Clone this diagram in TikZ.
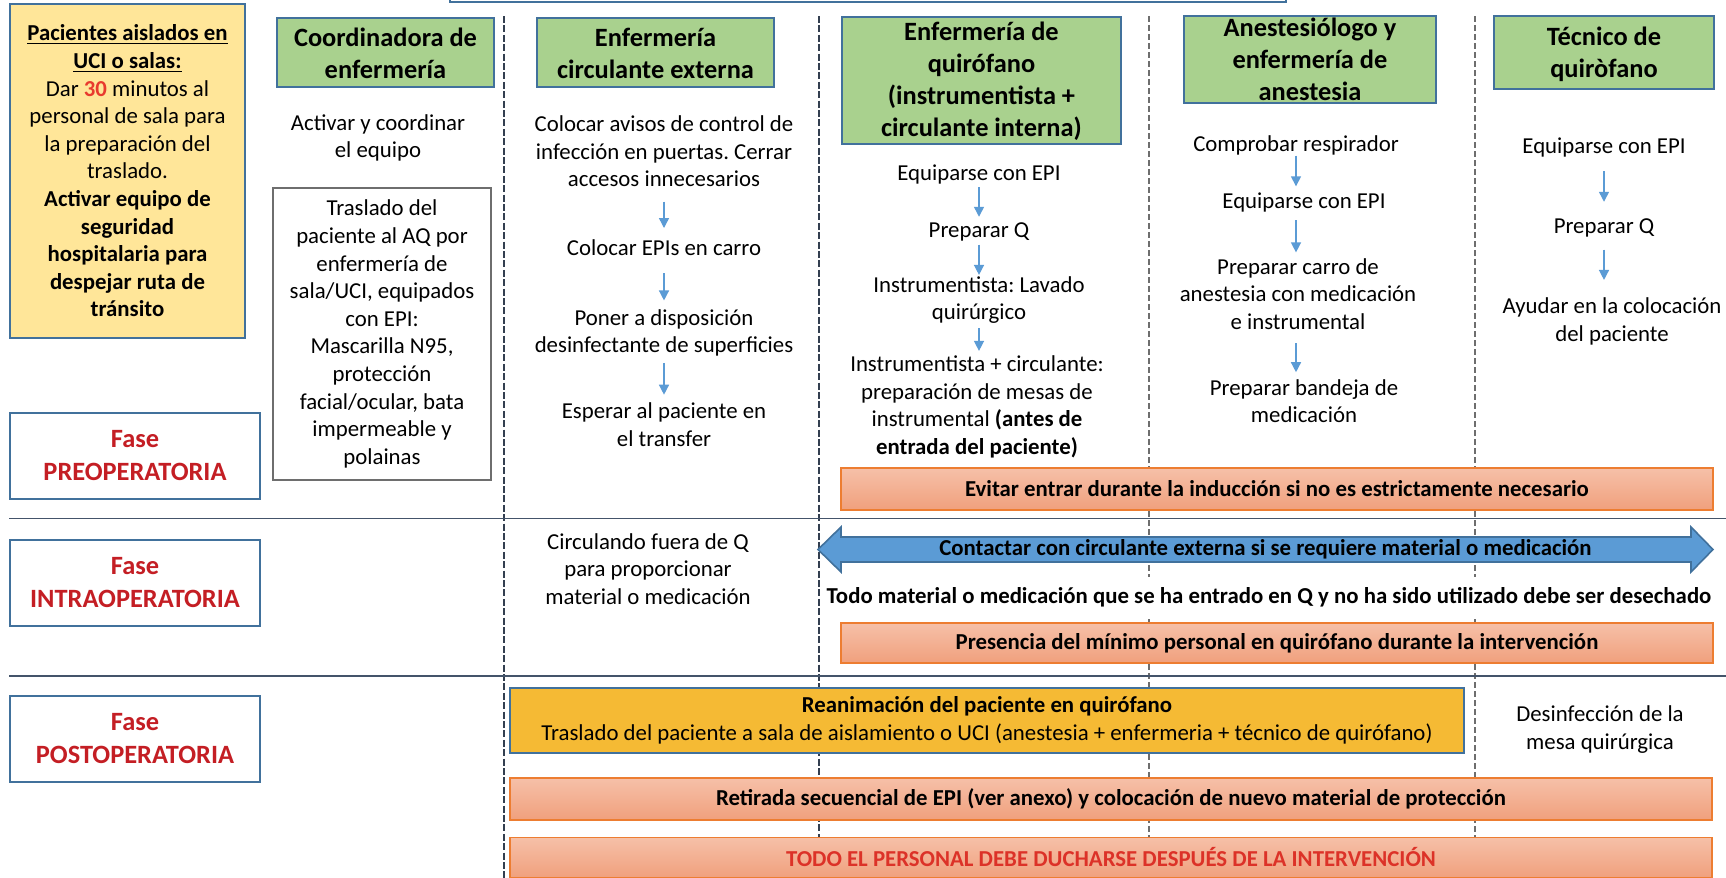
\documentclass[tikz,border=0pt]{standalone}
\usepackage{fontspec}
\setmainfont{Carlito}
\usetikzlibrary{arrows.meta}
\frenchspacing
\definecolor{boxblue}{RGB}{65,113,156}
\definecolor{hdrgreen}{RGB}{169,209,142}
\definecolor{yellowf}{RGB}{255,230,153}
\definecolor{fasered}{RGB}{196,30,36}
\definecolor{red30}{RGB}{232,58,46}
\definecolor{todored}{RGB}{220,50,40}
\definecolor{orgline}{RGB}{237,125,49}
\definecolor{orgtop}{RGB}{246,192,168}
\definecolor{orgbot}{RGB}{240,160,125}
\definecolor{goldf}{RGB}{245,186,52}
\definecolor{arrblue}{RGB}{91,155,213}
\definecolor{navyc}{RGB}{51,63,80}
\definecolor{dgray}{RGB}{110,110,110}
\definecolor{slate}{RGB}{68,84,106}
\definecolor{trasb}{RGB}{110,110,110}
\begin{document}
\begin{tikzpicture}[x=0.5pt,y=-0.5pt,
  txt/.style={font=\fontsize{11.4}{13.8}\selectfont, align=center, inner sep=0pt},
  btxt/.style={font=\fontsize{11.4}{13.8}\selectfont\bfseries, align=center, inner sep=0pt},
  ttl/.style={font=\fontsize{13.2}{16}\selectfont\bfseries, align=center, inner sep=0pt},
  sz/.style 2 args={minimum width=#1*0.5pt, minimum height=#2*0.5pt},
  gbox/.style={draw=boxblue, fill=hdrgreen, line width=0.9pt, inner sep=0pt},
  fasebox/.style={draw=boxblue, fill=white, line width=0.8pt, inner sep=0pt, font=\fontsize{13.2}{16.5}\selectfont\bfseries, text=fasered, align=center},
  obox/.style={draw=orgline, line width=0.8pt, top color=orgtop, bottom color=orgbot, inner sep=0pt, font=\fontsize{11.4}{13.8}\selectfont\bfseries, align=center},
  arr/.style 2 args={draw=arrblue, line width=0.7pt, -{Triangle[length=5pt,width=5pt]}, shorten <=#1pt, shorten >=#2pt},
  navyd/.style={draw=navyc, line width=1pt, dash pattern=on 3.5pt off 1.2pt},
  grayd/.style={draw=dgray, line width=0.6pt, dash pattern=on 3pt off 1.5pt},
  hline/.style={draw=slate, line width=0.8pt}
]
\useasboundingbox (0,0) rectangle (1726,878);
\fill[white] (0,0) rectangle (1726,878);

% column separators
\draw[navyd] (504,16) -- (504,878);
\draw[navyd] (819,16) -- (819,878);
\draw[grayd] (1149,16) -- (1149,878);
\draw[grayd] (1475,16) -- (1475,878);

% phase separators
\draw[hline] (9,518.5) -- (1726,518.5);
\draw[hline] (9,676) -- (1726,676);

% top strip (box cut off by the page)
\draw[boxblue, line width=0.9pt] (450,-4) -- (450,2) -- (1286,2) -- (1286,-4);

% left yellow box
\node[draw=boxblue, fill=yellowf, line width=0.8pt, sz={235}{334}] (yel) at (127.5,171) {};
\node[txt] (yelT) at (yel) {\textbf{\underline{Pacientes aislados en}}\\\textbf{\underline{UCI o salas:}}\\Dar \textbf{\textcolor{red30}{30}} minutos al\\personal de sala para\\la preparación del\\traslado.\\\textbf{Activar equipo de}\\\textbf{seguridad}\\\textbf{hospitalaria para}\\\textbf{despejar ruta de}\\\textbf{tránsito}};

% phase boxes
\node[fasebox, sz={250}{86}] (pre) at (135,456) {Fase\\PREOPERATORIA};
\node[fasebox, sz={250}{86}] (intra) at (135,583) {Fase\\INTRAOPERATORIA};
\node[fasebox, sz={250}{86}] (post) at (135,739) {Fase\\POSTOPERATORIA};

% header boxes
\node[gbox, sz={217}{69}] (hcoord) at (385.5,52.5) {};
\node[ttl] (hcoordT) at (385.5,53) {Coordinadora de\\enfermería};
\node[gbox, sz={237}{69}] (hcirc) at (655.5,52.5) {};
\node[ttl] (hcircT) at (655.5,53) {Enfermería\\circulante externa};
\node[gbox, sz={279}{127}] (hquir) at (981.5,80.5) {};
\node[ttl] (hquirT) at (981.5,81.5) {Enfermería de\\quirófano\\(instrumentista +\\circulante interna)};
\node[gbox, sz={252}{87}] (hanes) at (1310,59.5) {};
\node[ttl] (hanesT) at (1310,59) {Anestesiólogo y\\enfermería de\\anestesia};
\node[gbox, sz={220}{73}] (htec) at (1604,52.5) {};
\node[ttl] (htecT) at (1604,54) {Técnico de\\quiròfano};

% coordinadora column
\node[txt] (c1) at (378,138) {Activar y coordinar\\el equipo};
\node[txt, draw=trasb, line width=0.9pt, fill=white, sz={218}{292}] (c2) at (382,334) {Traslado del\\paciente al AQ por\\enfermería de\\sala/UCI, equipados\\con EPI:\\Mascarilla N95,\\protección\\facial/ocular, bata\\impermeable y\\polainas};

% circulante externa column
\node[txt] (e1) at (664,151.5) {Colocar avisos de control de\\infección en puertas. Cerrar\\accesos innecesarios};
\node[txt] (e2) at (664,248) {Colocar EPIs en carro};
\node[txt] (e3) at (664,333) {Poner a disposición\\desinfectante de superficies};
\node[txt] (e4) at (664,424.5) {Esperar al paciente en\\el transfer};
\node[txt] (e5) at (648,569) {Circulando fuera de Q\\para proporcionar\\material o medicación};
\draw[arr={7}{5.8}] (e1.south) -- (e2.north);
\draw[arr={8.3}{4.3}] (e2.south) -- (e3.north);
\draw[arr={3}{3.8}] (e3.south) -- (e4.north);

% quirofano column
\node[txt] (q1) at (979,174) {Equiparse con EPI};
\node[txt] (q2) at (979,232) {Preparar Q};
\node[txt] (q3) at (979,300) {Instrumentista: Lavado\\quirúrgico};
\node[txt] (q4) at (977,407) {Instrumentista + circulante:\\preparación de mesas de\\instrumental \textbf{(antes de}\\\textbf{entrada del paciente)}};
\draw[arr={1.5}{2.8}] (q1.south) -- (q2.north);
\draw[arr={1.5}{0.5}] (q2.south) -- (q3.north);
\draw[arr={2}{2.3}] (q3.south) -- (q3.south |- q4.north);

% anestesia column
\node[txt] (a1) at (1296,145) {Comprobar respirador};
\node[txt] (a2) at (1304,202) {Equiparse con EPI};
\node[txt] (a3) at (1298,294) {Preparar carro de\\anestesia con medicación\\e instrumental};
\node[txt] (a4) at (1304,401) {Preparar bandeja de\\medicación};
\draw[arr={0.2}{2.8}] (a1.south) -- (a1.south |- a2.north);
\draw[arr={4}{2.8}] (a1.south |- a2.south) -- (a1.south |- a3.north);
\draw[arr={6.5}{3.3}] (a1.south |- a3.south) -- (a1.south |- a4.north);

% tecnico column
\node[txt] (k1) at (1604,147) {Equiparse con EPI};
\node[txt] (k2) at (1604,228) {Preparar Q};
\node[txt] (k3) at (1612,321.5) {Ayudar en la colocación\\del paciente};
\draw[arr={7}{8.3}] (k1.south) -- (k2.north);
\draw[arr={6}{8.8}] (k2.south) -- (k2.south |- k3.north);
\node[txt] (k4) at (1600,729.5) {Desinfección de la\\mesa quirúrgica};

% spanning bars
\node[obox, sz={872}{42}] (evitar) at (1277,489) {Evitar entrar durante la inducción si no es estrictamente necesario};

\coordinate (dl) at (818,549.5);
\coordinate (dr) at (1713,549.5);
\draw[draw=boxblue, fill=arrblue, line width=0.8pt]
  (dl) -- (841,527) -- (841,537) -- (1691,537) -- (1691,527) -- (dr)
  -- (1691,572) -- (1691,562) -- (841,562) -- (841,572) -- cycle;
\node[btxt] (contactar) at (1265.5,549.5) {Contactar con circulante externa si se requiere material o medicación};

\node[btxt, fill=white, inner xsep=2pt, inner ysep=5pt] (todo) at (1269,597) {Todo material o medicación que se ha entrado en Q y no ha sido utilizado debe ser desechado};

\node[obox, sz={872}{40}] (presencia) at (1277,643) {Presencia del mínimo personal en quirófano durante la intervención};

\node[draw=boxblue, fill=goldf, line width=0.8pt, inner sep=0pt, sz={954}{65}, font=\fontsize{11.4}{13.8}\selectfont, align=center] (reanim) at (987,720.5) {\textbf{Reanimación del paciente en quirófano}\\Traslado del paciente a sala de aislamiento o UCI (anestesia + enfermeria + técnico de quirófano)};

\node[obox, sz={1202}{42}] (retirada) at (1111,799) {Retirada secuencial de EPI (ver anexo) y colocación de nuevo material de protección};
\node[obox, sz={1202}{40}, text=todored] (ducha) at (1111,857.5) {TODO EL PERSONAL DEBE DUCHARSE DESPUÉS DE LA INTERVENCIÓN};
\end{tikzpicture}
\end{document}
